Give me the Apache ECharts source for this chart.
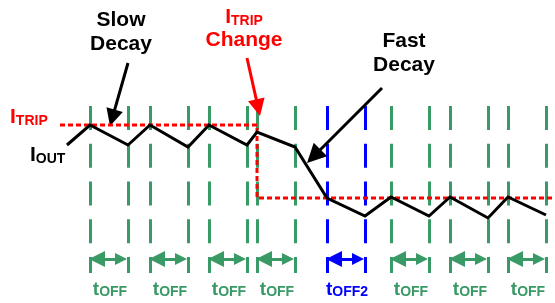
<!DOCTYPE html>
<html>
<head>
<meta charset="utf-8">
<script src="https://cdn.jsdelivr.net/npm/echarts@6/dist/echarts.min.js"></script>
<style>
  html, body { margin: 0; padding: 0; background: #fff; }
  #chart { width: 555px; height: 303px; }
</style>
</head>
<body>
<div id="chart"></div>
<script>
  // schematic units: x = time, y = current (drawn downwards, axis inverted)
  const offStart = [90, 150, 209, 257, 391, 450, 508];   // start of each tOFF
  const offEnd = [128, 188, 247, 295, 429, 488, 546];    // end of each tOFF
  const off2Start = [327];
  const off2End = [365];
  const offLabels = ['OFF', 'OFF', 'OFF', 'OFF', 'OFF', 'OFF', 'OFF'];

  const ioutX = [67, 90, 128, 150, 188, 209, 247, 257, 295, 327, 365, 391, 429, 450, 488, 508, 546];
  const ioutY = [145, 125, 145, 125, 147, 125, 145, 132, 147, 198, 216, 197, 216, 197, 218, 197, 215];

  const itripX = [60, 257, 257, 555];
  const itripY = [125, 125, 198, 198];

  const tickTop = 106, tickBottom = 273, arrowRow = 259, labelRow = 289;

  const GREEN = '#3a9a66', BLUE = '#0000ff', RED = '#ff0000';
  const FONT = '"Liberation Sans", Arial, sans-serif';

  const myChart = echarts.init(document.getElementById('chart'));

  // pull the end point back so the arrow head tip lands on the target
  function headEnd (from, tip, len) {
    let dx = tip[0] - from[0], dy = tip[1] - from[1];
    let l = Math.hypot(dx, dy);
    return [tip[0] - dx / l * len / 2, tip[1] - dy / l * len / 2];
  }

  function ticks (xs) {
    return xs.map(x => ({coords: [[x, tickTop], [x, tickBottom]]}));
  }
  function spans (a, b) {
    return a.map((x, i) => ({coords: [[x + 7, arrowRow], [b[i] - 7, arrowRow]]}));
  }

  const greenTicks = offStart.concat(offEnd);
  const blueTicks = off2Start.concat(off2End);

  const slowFrom = [128, 63], slowTip = [110, 126];
  const changeFrom = [247, 58], changeTip = [260, 116];
  const fastFrom = [382, 88], fastTip = [307, 163];

  const subRich = {
    tb: {fontSize: 19, fontWeight: 'bold', fontFamily: FONT, lineHeight: 20, verticalAlign: 'bottom'},
    ts: {fontSize: 14, fontWeight: 'bold', fontFamily: FONT, lineHeight: 15, verticalAlign: 'bottom'},
    ib: {fontSize: 21, fontWeight: 'bold', fontFamily: FONT, lineHeight: 22, verticalAlign: 'bottom'},
    is: {fontSize: 14, fontWeight: 'bold', fontFamily: FONT, lineHeight: 17, verticalAlign: 'bottom'},
    w: {fontSize: 21, fontWeight: 'bold', fontFamily: FONT, lineHeight: 24}
  };

  function textItem (x, y, text, color, align) {
    return {
      value: [x, y],
      label: {show: true, position: 'inside', formatter: text, color: color, opacity: 1,
        align: align || 'center', rich: subRich}
    };
  }

  const texts = [
    textItem(121, 32, '{w|Slow}\n{w|Decay}', '#000'),
    textItem(244, 29, '{ib|I}{is|TRIP}\n{w|Change}', RED),
    textItem(404, 53, '{w|Fast}\n{w|Decay}', '#000'),
    textItem(10, 117, '{ib|I}{is|TRIP}', RED, 'left'),
    textItem(30, 155, '{ib|I}{is|OUT}', '#000', 'left')
  ];
  offStart.forEach((x, i) => {
    texts.push(textItem((x + offEnd[i]) / 2 + 1, labelRow, '{tb|t}{ts|' + offLabels[i] + '}', GREEN));
  });
  texts.push(textItem((off2Start[0] + off2End[0]) / 2 + 1, labelRow, '{tb|t}{ts|OFF2}', BLUE));

  let option = {
    animation: false,
    grid: {left: 0, right: 0, top: 0, bottom: 0},
    xAxis: {type: 'value', min: 0, max: 555, show: false},
    yAxis: {type: 'value', min: 0, max: 303, inverse: true, show: false},
    series: [
      {
        type: 'lines', coordinateSystem: 'cartesian2d',
        lineStyle: {color: GREEN, width: 3, type: [24, 13.75], opacity: 1},
        data: ticks(greenTicks)
      },
      {
        type: 'lines', coordinateSystem: 'cartesian2d',
        lineStyle: {color: BLUE, width: 3, type: [24, 13.75], opacity: 1},
        data: ticks(blueTicks)
      },
      {
        type: 'lines', coordinateSystem: 'cartesian2d',
        symbol: ['triangle', 'triangle'], symbolSize: [16, 12],
        lineStyle: {color: GREEN, width: 3, opacity: 1},
        data: spans(offStart, offEnd)
      },
      {
        type: 'lines', coordinateSystem: 'cartesian2d',
        symbol: ['triangle', 'triangle'], symbolSize: [16, 12],
        lineStyle: {color: BLUE, width: 3, opacity: 1},
        data: spans(off2Start, off2End)
      },
      {
        type: 'line', symbol: 'none',
        lineStyle: {color: RED, width: 3, type: [5, 3]},
        data: itripX.map((x, i) => [x, itripY[i]])
      },
      {
        type: 'line', symbol: 'none',
        lineStyle: {color: '#000', width: 3, join: 'miter'},
        data: ioutX.map((x, i) => [x, ioutY[i]])
      },
      {
        type: 'lines', coordinateSystem: 'cartesian2d',
        symbol: ['none', 'triangle'], symbolSize: [15, 17],
        lineStyle: {color: '#000', width: 3, opacity: 1},
        data: [
          {coords: [slowFrom, headEnd(slowFrom, slowTip, 17)]},
          {coords: [fastFrom, headEnd(fastFrom, fastTip, 19)], symbolSize: [17, 19]}
        ]
      },
      {
        type: 'lines', coordinateSystem: 'cartesian2d',
        symbol: ['none', 'triangle'], symbolSize: [15, 17],
        lineStyle: {color: RED, width: 3, opacity: 1},
        data: [{coords: [changeFrom, headEnd(changeFrom, changeTip, 17)]}]
      },
      {
        type: 'scatter', symbolSize: 0,
        itemStyle: {opacity: 1},
        data: texts
      }
    ]
  };
  myChart.setOption(option);
</script>
</body>
</html>
